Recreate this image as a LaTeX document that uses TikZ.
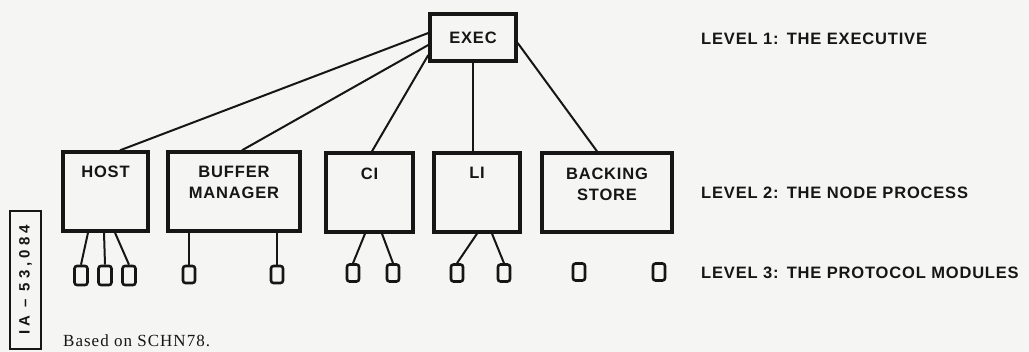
\documentclass[tikz,border=0pt]{standalone}
\usepackage{fontspec}
\setmainfont{Liberation Serif}
\newfontfamily\lblfont{Liberation Sans}[LetterSpace=5]
\definecolor{ink}{RGB}{22,22,22}
\definecolor{paper}{RGB}{245,245,243}
\begin{document}
\begin{tikzpicture}[x=1pt,y=-1pt,
  every node/.style={inner sep=0pt, text=ink},
  lbl/.style={font=\lblfont\bfseries\fontsize{16.5}{21}\selectfont},
  proc/.style={draw=ink, line width=3.4pt, rectangle, minimum height=79pt},
  boxtext/.style={lbl, align=center, anchor=north},
  mod/.style={draw=ink, line width=2.6pt, rounded corners=2.5pt, minimum width=12pt, minimum height=17pt},
  link/.style={draw=ink, line width=2pt},
  lvl/.style={lbl, anchor=west}]
\fill[paper] (0,0) rectangle (1029,352);
\useasboundingbox (0,0) rectangle (1029,352);

% level 1: the executive
\node[proc, lbl, minimum width=86pt, minimum height=47pt] (exec) at (473,37.5) {EXEC};

% level 2: the node process
\node[proc, minimum width=85pt]  (host)    at (105.5,191.5) {};
\node[proc, minimum width=132pt] (buffer)  at (234,191.5) {};
\node[proc, minimum width=87pt]  (ci)      at (369.5,192.5) {};
\node[proc, minimum width=86pt]  (li)      at (477,192.5) {};
\node[proc, minimum width=130pt] (backing) at (607,192.5) {};

\node[boxtext] (hostlbl)    at ([yshift=-15pt]host.north)    {HOST};
\node[boxtext] (bufferlbl)  at ([yshift=-16pt]buffer.north)  {BUFFER\\MANAGER};
\node[boxtext] (cilbl)      at ([yshift=-16pt]ci.north)      {CI};
\node[boxtext] (lilbl)      at ([yshift=-16pt]li.north)      {LI};
\node[boxtext] (backinglbl) at ([yshift=-16pt]backing.north) {BACKING\\STORE};

% level 3: the protocol modules
\node[mod, minimum width=13pt, minimum height=19pt] (h1) at (81,275.5) {};
\node[mod, minimum width=13pt, minimum height=19pt] (h2) at (105,275.5) {};
\node[mod, minimum width=13pt, minimum height=19pt] (h3) at (129,275.5) {};
\node[mod] (b1) at (189,274.5) {};
\node[mod] (b2) at (277,274.5) {};
\node[mod] (c1) at (353,273) {};
\node[mod] (c2) at (393,273) {};
\node[mod] (l1) at (457,273) {};
\node[mod] (l2) at (504,273) {};
\node[mod] (s1) at (579,272) {};
\node[mod] (s2) at (659,272) {};

% executive to node process
\draw[link] ([yshift=4.5pt]exec.west)  -- ([xshift=14.5pt]host.north);
\draw[link] ([yshift=-7.5pt]exec.west) -- ([xshift=8pt]buffer.north);
\draw[link] ([yshift=-17.5pt]exec.west) -- ([xshift=2.5pt]ci.north);
\draw[link] (exec.south) -- (exec.south |- li.north);
\draw[link] ([yshift=-5.5pt]exec.east) -- ([xshift=-10pt]backing.north);

% node process to protocol modules
\draw[link] ([xshift=-17.5pt]host.south) -- (h1.north);
\draw[link] ([xshift=-1.5pt]host.south)  -- (h2.north);
\draw[link] ([xshift=9.5pt]host.south)   -- (h3.north);
\draw[link] (b1.north) -- (b1.north |- buffer.south);
\draw[link] (b2.north) -- (b2.north |- buffer.south);
\draw[link] ([xshift=-4.5pt]ci.south) -- (c1.north);
\draw[link] ([xshift=12.5pt]ci.south) -- (c2.north);
\draw[link] ([xshift=0pt]li.south)   -- (l1.north);
\draw[link] ([xshift=15pt]li.south)  -- (l2.north);

% level captions
\node[lvl] (lev1) at (701,39)  {LEVEL 1:\enspace THE EXECUTIVE};
\node[lvl] (lev2) at (701,193) {LEVEL 2:\enspace THE NODE PROCESS};
\node[lvl] (lev3) at (701,273) {LEVEL 3:\enspace THE PROTOCOL MODULES};

% figure number and source
\node[draw=ink, line width=1.8pt, rotate=90, minimum width=138pt, minimum height=31pt,
      font=\lblfont\bfseries\fontsize{15}{17}\selectfont\addfontfeature{LetterSpace=27}]
      (figid) at (25.5,280) {IA \textendash{} 53,084};
\node[anchor=base west, font=\fontsize{17}{19}\selectfont\addfontfeature{LetterSpace=6}]
      (src) at (63,347) {Based on SCHN78.};
\end{tikzpicture}
\end{document}
